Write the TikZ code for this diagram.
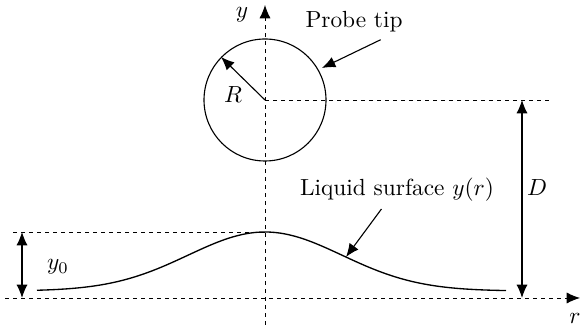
\documentclass[tikz,border=0pt]{standalone}
\usetikzlibrary{arrows.meta}
\begin{document}
\begin{tikzpicture}[x=0.45pt, y=-0.45pt, >={Latex[length=6pt,width=5pt]},
    line width=0.5pt,
    axis/.style={line width=0.4pt, dash pattern=on 2pt off 1.6pt},
    guide/.style={line width=0.4pt, dash pattern=on 1.8pt off 1.8pt},
    every node/.style={inner sep=1pt, scale=1.05}]
  \useasboundingbox (0,0) rectangle (583,330);
  % axes and centre of the tip
  \coordinate (c) at (265,100);
  \coordinate (apex) at (265,232);
  \draw[axis,->] (5,298) -- (580,298) coordinate (rend);
  \draw[axis,->] (265,325) -- (265,5) coordinate (yend);
  \node (ylab) at (242,15) {$y$};
  \node (rlab) at (575,318) {$r$};
  % probe tip
  \draw (c) circle[radius=61];
  \coordinate (rtip) at (221,57);
  \draw[->] (c) -- (rtip);
  \node (rad) at (233,95) {$R$};
  \node (probe) at (354,22) {Probe tip};
  \coordinate (ptip) at (322,68);
  \draw[->] ([xshift=12pt,yshift=-2pt]probe.south) -- (ptip);
  % guides
  \coordinate (dtop) at (522,100);
  \coordinate (dbot) at (522,298);
  \draw[guide] (c) -- (550,100);
  \draw[guide] (13,232) -- (apex);
  \draw[<->] (dtop) -- (dbot);
  \node (dlab) at (537,188) {$D$};
  \coordinate (ytop) at (22,232);
  \coordinate (ybot) at (22,298);
  \draw[<->] (ytop) -- (ybot);
  \node (y0lab) at (58,267) {$y_0$};
  % liquid surface
  \draw[line width=0.6pt] plot[domain=37:506, samples=80, smooth, variable=\x]
    ({\x}, {291-59*exp(-0.5*((\x-265)/77)^2)});
  \node (liq) at (397,190) {Liquid surface $y(r)$};
  \coordinate (stip) at (346,257);
  \draw[->] ([xshift=-7pt,yshift=-2pt]liq.south) -- (stip);
\end{tikzpicture}
\end{document}
